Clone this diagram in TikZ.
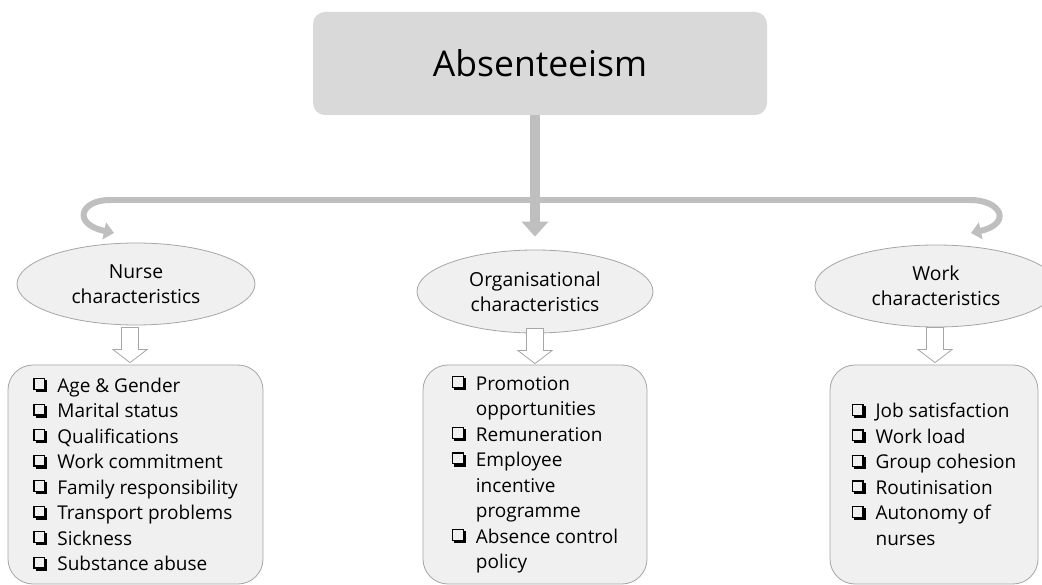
\documentclass[tikz,border=0pt]{standalone}
\usepackage{fontspec}
\setmainfont{Open Sans}[Ligatures=NoCommon]
\usetikzlibrary{arrows.meta,shapes.geometric,calc}
\definecolor{topgray}{HTML}{D9D9D9}
\definecolor{bargray}{HTML}{BFBFBF}
\definecolor{lightfill}{HTML}{F0F0F0}
\definecolor{edgegray}{HTML}{A6A6A6}
\newcommand{\cbx}{\makebox[24pt][l]{%
  \rlap{\hspace{2.2pt}\rule[0pt]{11.9pt}{2.2pt}}%
  \rlap{\hspace{11.9pt}\rule[0pt]{2.2pt}{11.9pt}}%
  \raisebox{3.4pt}{\setlength\fboxsep{0pt}\setlength\fboxrule{1.2pt}\fbox{\rule{0pt}{9.5pt}\rule{9.5pt}{0pt}}}}}
\newcommand{\cbind}{\hspace*{24pt}}
\newcommand{\hollowarrow}[1]{%
  \draw[hollow] ($(#1)+(-8.5,-35)$) -- ($(#1)+(8.5,-35)$) -- ($(#1)+(8.5,-13)$)
    -- ($(#1)+(17,-13)$) -- (#1) -- ($(#1)+(-17,-13)$) -- ($(#1)+(-8.5,-13)$) -- cycle;}
\begin{document}
\begin{tikzpicture}[x=1pt,y=-1pt,
  topbox/.style={rounded corners=12pt, fill=topgray, minimum width=454pt,
    minimum height=103pt, inner sep=0pt, font=\fontsize{35.5}{40}\selectfont},
  oval/.style={ellipse, draw=edgegray, line width=0.8pt, fill=lightfill,
    inner sep=0pt, align=center, font=\fontsize{19.3}{25}\selectfont},
  listbox/.style={rounded corners=25pt, draw=edgegray, line width=0.8pt,
    fill=lightfill, inner sep=0pt, align=left, font=\fontsize{19}{25.5}\selectfont},
  bar/.style={draw=bargray, line width=6pt},
  hollow/.style={draw=edgegray, line width=0.8pt, fill=white, line join=miter}]
\useasboundingbox (0,0) rectangle (1042,585);
\fill[white] (0,0) rectangle (1042,585);

\node[topbox] (abs) at (540,63.5) {Absenteeism};

\node[oval, minimum width=238pt, minimum height=82pt] (nurse) at (136,284) {Nurse\\characteristics};
\node[oval, minimum width=236pt, minimum height=83pt] (org) at (535,291.5) {Organisational\\characteristics};
\node[oval, minimum width=242pt, minimum height=82pt] (work) at (936,286) {Work\\characteristics};

\node[listbox, minimum width=255pt, minimum height=219pt] (nb) at (135.5,474.5) {%
\cbx Age \& Gender\\
\cbx Marital status\\
\cbx Qualifications\\
\cbx Work commitment\\
\cbx Family responsibility\\
\cbx Transport problems\\
\cbx Sickness\\
\cbx Substance abuse};
\node[listbox, minimum width=224pt, minimum height=219pt] (ob) at (535,474.5) {%
\cbx Promotion\\
\cbind opportunities\\
\cbx Remuneration\\
\cbx Employee\\
\cbind incentive\\
\cbind programme\\
\cbx Absence control\\
\cbind policy};
\node[listbox, minimum width=208pt, minimum height=219pt] (wb) at (934,474.5) {%
\cbx Job satisfaction\\
\cbx Work load\\
\cbx Group cohesion\\
\cbx Routinisation\\
\cbx Autonomy of\\
\cbind nurses};

% hollow arrows
\coordinate (ta) at ([xshift=-5.5pt,yshift=2pt]nb.north);
\coordinate (tb) at ([yshift=1pt]ob.north);
\coordinate (tc) at ([xshift=1pt,yshift=2pt]wb.north);
\hollowarrow{ta}
\hollowarrow{tb}
\hollowarrow{tc}

% gray connectors
\coordinate (jl) at (110,200);
\coordinate (jr) at (970,200);
\coordinate (nl) at (114,233);
\coordinate (nr) at (971,233);
\draw[bar] (jl) -- (jr);
\draw[bar, -{Triangle[width=17pt,length=10pt]}] (jl) .. controls (80,200) and (72,224) .. (nl);
\draw[bar, -{Triangle[width=17pt,length=10pt]}] (jr) .. controls (1002,200) and (1012,224) .. (nr);
\draw[bar, line width=10pt, -{Triangle[width=26pt,length=15pt]}] (org.north |- abs.south) -- ([yshift=13pt]org.north);
\end{tikzpicture}
\end{document}
